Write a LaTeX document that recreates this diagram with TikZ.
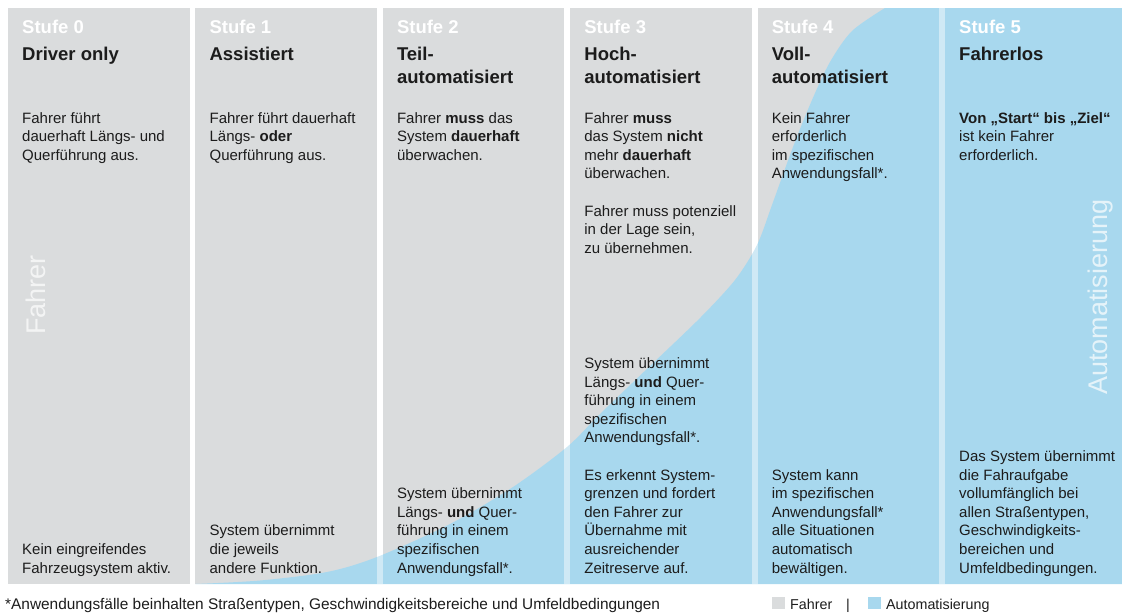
\documentclass[tikz,border=0pt]{standalone}
\usepackage{fontspec}
\setmainfont{Liberation Sans}
\usepackage{xcolor}
\definecolor{fahrergrau}{RGB}{218,220,221}
\definecolor{autoblau}{RGB}{168,216,238}
\definecolor{ink}{RGB}{28,28,28}

% multi-line nodes sit on the baseline of their last line
\tikzset{
  stufe/.style={anchor=base west, inner sep=0pt, text=white,
    font=\fontsize{18.5}{23}\selectfont\bfseries},
  titel/.style={anchor=base west, inner sep=0pt, align=left, text=ink,
    font=\fontsize{18.5}{23}\selectfont\bfseries},
  info/.style={anchor=base west, inner sep=0pt, align=left, text=ink,
    font=\fontsize{15}{18.6}\selectfont},
  seitlich/.style={rotate=90, inner sep=0pt, text=white, opacity=0.7,
    font=\fontsize{27}{27}\selectfont},
  fuss/.style={anchor=base west, inner sep=0pt, text=ink,
    font=\fontsize{14.3}{17}\selectfont}
}

\begin{document}
\begin{tikzpicture}[x=1pt,y=-1pt]
  \useasboundingbox (0,0) rectangle (1122,613);

  % grey columns
  \fill[fahrergrau] (8,8) rectangle (189.6,584);
  \fill[fahrergrau] (195.4,8) rectangle (377,584);
  \fill[fahrergrau] (382.8,8) rectangle (564.4,584);
  \fill[fahrergrau] (570.2,8) rectangle (751.8,584);
  \fill[fahrergrau] (757.6,8) rectangle (939.2,584);
  \fill[fahrergrau] (945,8) rectangle (1122,584);

  % automation share
  \fill[autoblau] plot[smooth, tension=0.5] coordinates {
      (195.4,584) (260,580.5) (327,572) (377,557) (450,524) (513,487)
      (567,447) (600,414) (650,366) (700,318) (735,280) (757,245)
      (772,205) (793,147) (812,100) (830,62) (852,31) (885,8)}
    -- (1122,8) -- (1122,584) -- cycle;

  % gaps stay lighter over the blue
  \fill[white, opacity=0.45] (377,8) rectangle (382.8,584);
  \fill[white, opacity=0.45] (564.4,8) rectangle (570.2,584);
  \fill[white, opacity=0.45] (751.8,8) rectangle (757.6,584);
  \fill[white, opacity=0.45] (939.2,8) rectangle (945,584);

  \node[seitlich] (fahrer) at (36,295) {Fahrer};
  \node[seitlich] (automat) at (1101,297) {Automatisierung};

  \node[stufe] (s0) at (22,33) {Stufe 0};
  \node[stufe] (s1) at (209.4,33) {Stufe 1};
  \node[stufe] (s2) at (396.8,33) {Stufe 2};
  \node[stufe] (s3) at (584.2,33) {Stufe 3};
  \node[stufe] (s4) at (771.6,33) {Stufe 4};
  \node[stufe] (s5) at (959,33) {Stufe 5};

  \node[titel] (t0) at (22,60) {Driver only};
  \node[titel] (t1) at (209.4,60) {Assistiert};
  \node[titel] (t2) at (396.8,83) {Teil-\\automatisiert};
  \node[titel] (t3) at (584.2,83) {Hoch-\\automatisiert};
  \node[titel] (t4) at (771.6,83) {Voll-\\automatisiert};
  \node[titel] (t5) at (959,60) {Fahrerlos};

  \node[info] (oben0) at (22,160.2) {Fahrer führt\\dauerhaft Längs- und\\Querführung aus.};
  \node[info] (oben1) at (209.4,160.2) {Fahrer führt dauerhaft\\Längs- \textbf{oder}\\Querführung aus.};
  \node[info] (oben2) at (396.8,160.2) {Fahrer \textbf{muss} das\\System \textbf{dauerhaft}\\überwachen.};
  \node[info] (oben3) at (584.2,253.2) {Fahrer \textbf{muss}\\das System \textbf{nicht}\\mehr \textbf{dauerhaft}\\überwachen.\\[18.6pt]Fahrer muss potenziell\\in der Lage sein,\\zu übernehmen.};
  \node[info] (oben4) at (771.6,178.8) {Kein Fahrer\\erforderlich\\im spezifischen\\Anwendungsfall*.};
  \node[info] (oben5) at (959,160.2) {\textbf{Von „Start“ bis „Ziel“}\\ist kein Fahrer\\erforderlich.};

  \node[info] (unten0) at (22,573) {Kein eingreifendes\\Fahrzeugsystem aktiv.};
  \node[info] (unten1) at (209.4,573) {System übernimmt\\die jeweils\\andere Funktion.};
  \node[info] (unten2) at (396.8,573) {System übernimmt\\Längs- \textbf{und} Quer-\\führung in einem\\spezifischen\\Anwendungsfall*.};
  \node[info] (unten3) at (584.2,573) {System übernimmt\\Längs- \textbf{und} Quer-\\führung in einem\\spezifischen\\Anwendungsfall*.\\[18.6pt]Es erkennt System-\\grenzen und fordert\\den Fahrer zur\\Übernahme mit\\ausreichender\\Zeitreserve auf.};
  \node[info] (unten4) at (771.6,573) {System kann\\im spezifischen\\Anwendungsfall*\\alle Situationen\\automatisch\\bewältigen.};
  \node[info] (unten5) at (959,573) {Das System übernimmt\\die Fahraufgabe\\vollumfänglich bei\\allen Straßentypen,\\Geschwindigkeits-\\bereichen und\\Umfeldbedingungen.};

  \node[fuss, font=\fontsize{15.4}{17}\selectfont] (fussnote) at (5,609) {*Anwendungsfälle beinhalten Straßentypen, Geschwindigkeitsbereiche und Umfeldbedingungen};

  % legend
  \fill[fahrergrau] (772,597) rectangle (785,609);
  \node[fuss] (lgrau) at (790,609) {Fahrer};
  \node[fuss] (strich) at (846,609) {|};
  \fill[autoblau] (868,597) rectangle (881,609);
  \node[fuss] (lblau) at (886,609) {Automatisierung};
\end{tikzpicture}
\end{document}
